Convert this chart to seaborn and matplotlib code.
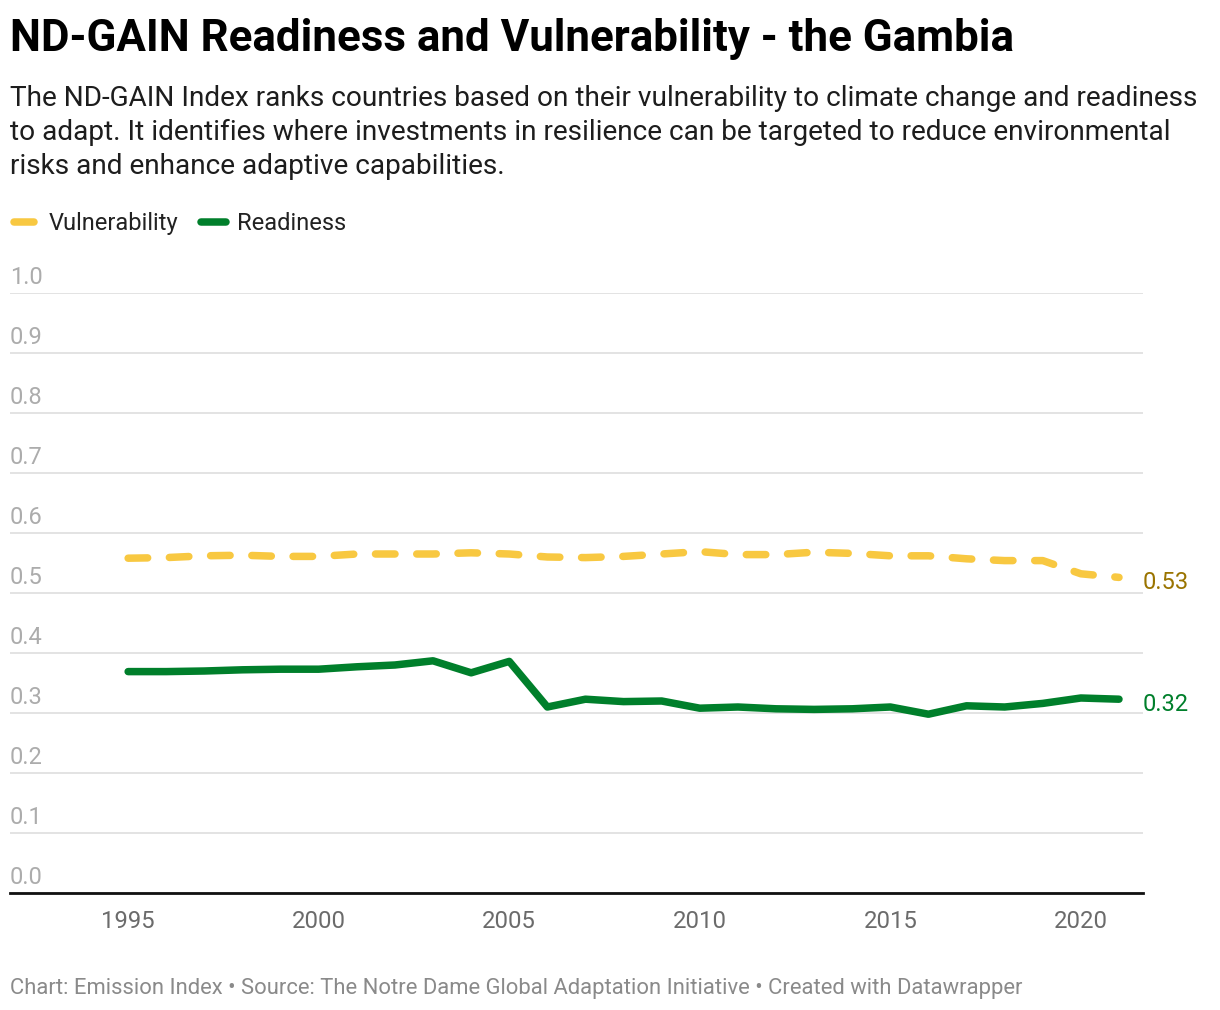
import numpy as np
import pandas as pd
import matplotlib.pyplot as plt
import matplotlib.transforms as mtransforms
from matplotlib.lines import Line2D
import seaborn as sns

# data
years = list(range(1995, 2022))
vulnerability = [0.558, 0.559, 0.562, 0.563, 0.561, 0.561, 0.565, 0.565, 0.565,
                 0.567, 0.565, 0.560, 0.559, 0.561, 0.565, 0.569, 0.564, 0.564,
                 0.568, 0.566, 0.562, 0.562, 0.557, 0.554, 0.554, 0.532, 0.526]
readiness = [0.369, 0.369, 0.370, 0.372, 0.373, 0.373, 0.377, 0.380, 0.387,
             0.367, 0.386, 0.310, 0.323, 0.319, 0.320, 0.308, 0.310, 0.307,
             0.306, 0.307, 0.310, 0.298, 0.312, 0.310, 0.316, 0.325, 0.323]
y_ticks = [0.0, 0.1, 0.2, 0.3, 0.4, 0.5, 0.6, 0.7, 0.8, 0.9, 1.0]
x_ticks = [1995, 2000, 2005, 2010, 2015, 2020]

YELLOW = '#f8c841'
GREEN = '#007f2b'
W, H = 1220, 1010

df = pd.DataFrame({
    'Year': years * 2,
    'Value': vulnerability + readiness,
    'Series': ['Vulnerability'] * len(years) + ['Readiness'] * len(years),
})

sns.set_style('white')
plt.rcParams['font.family'] = ['Roboto', 'DejaVu Sans']

fig = plt.figure(figsize=(W / 100, H / 100), dpi=100)

def fy(py):
    # pixel from top -> figure fraction
    return 1 - py / H

def fx(px):
    return px / W

ax = fig.add_axes([fx(10), fy(893), fx(1143) - fx(10), fy(293) - fy(893)])

sns.lineplot(data=df, x='Year', y='Value', hue='Series', style='Series',
             palette={'Vulnerability': YELLOW, 'Readiness': GREEN},
             dashes={'Vulnerability': (2.6, 2.9), 'Readiness': ''},
             linewidth=5.4, legend=False, ax=ax)
for ln in ax.lines:
    ln.set_dash_capstyle('round')
    ln.set_solid_capstyle('round')
    ln.set_solid_joinstyle('round')
    ln.set_dash_joinstyle('round')
    ln.set_clip_on(False)

ax.set_xlim(1991.9, 2021.63)
ax.set_ylim(0, 1)
ax.set_yticks(y_ticks)
ax.set_yticklabels([])
ax.tick_params(axis='y', length=0)
ax.grid(axis='y', color='#e1e1e1', linewidth=1.3)
ax.grid(axis='x', visible=False)
for s in ['top', 'right', 'left']:
    ax.spines[s].set_visible(False)
ax.spines['bottom'].set_color('#111111')
ax.spines['bottom'].set_linewidth(2)
ax.spines['bottom'].set_zorder(5)
ax.set_xticks(x_ticks)
ax.set_xticklabels([str(x) for x in x_ticks])
ax.tick_params(axis='x', length=0, pad=12.5, labelsize=17.2, labelcolor='#6b6b6b')
ax.set_xlabel('')
ax.set_ylabel('')

# y tick labels sit above the gridlines on the left
trans = mtransforms.blended_transform_factory(ax.transAxes, ax.transData)
off = mtransforms.ScaledTranslation(0, 9 / 100, fig.dpi_scale_trans)
for v in y_ticks:
    ax.text(0, v, f'{v:.1f}', transform=trans + off, ha='left', va='baseline',
            fontsize=17, color='#acacac')

# end labels
down = mtransforms.ScaledTranslation(0, -5 / 100, fig.dpi_scale_trans)
ax.text(2021 + 0.62, vulnerability[-1], f'{vulnerability[-1]:.2f}', ha='left',
        va='center', fontsize=17, color='#9a7400', clip_on=False,
        transform=ax.transData + down)
ax.text(2021 + 0.62, readiness[-1], f'{readiness[-1]:.2f}', ha='left',
        va='center', fontsize=17, color=GREEN, clip_on=False,
        transform=ax.transData + down)

# title, subtitle
fig.text(fx(10), fy(51), 'ND-GAIN Readiness and Vulnerability - the Gambia',
         fontsize=31.6, fontweight='bold', color='#000000', va='baseline')
sub = ['The ND-GAIN Index ranks countries based on their vulnerability to climate change and readiness',
       'to adapt. It identifies where investments in resilience can be targeted to reduce environmental',
       'risks and enhance adaptive capabilities.']
for i, line in enumerate(sub):
    fig.text(fx(10), fy(106 + 34 * i), line, fontsize=20.2, color='#1d1d1d', va='baseline')

# legend
fig.add_artist(Line2D([fx(14), fx(34)], [fy(222), fy(222)], color=YELLOW, lw=5.4,
                      solid_capstyle='round', transform=fig.transFigure))
fig.text(fx(49), fy(230), 'Vulnerability', fontsize=17, color='#222222', va='baseline')
fig.add_artist(Line2D([fx(201), fx(226)], [fy(222), fy(222)], color=GREEN, lw=5.4,
                      solid_capstyle='round', transform=fig.transFigure))
fig.text(fx(237), fy(230), 'Readiness', fontsize=17, color='#222222', va='baseline')

# footer
fig.text(fx(10), fy(994),
         'Chart: Emission Index \u2022 Source: The Notre Dame Global Adaptation Initiative \u2022 Created with Datawrapper',
         fontsize=15.8, color='#8a8a8a', va='baseline')

fig.savefig('out.png', dpi=100, facecolor='white')
